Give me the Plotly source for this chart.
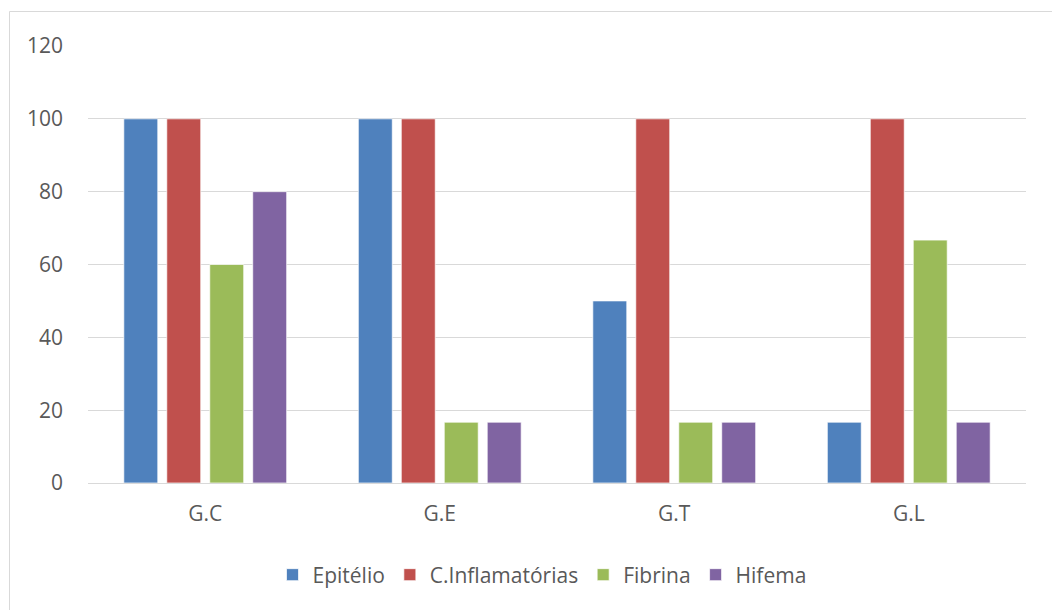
import plotly.graph_objects as go

categories = ["G.C", "G.E", "G.T", "G.L"]
epitelio = [100, 100, 50, 16.7]
inflamatorias = [100, 100, 100, 100]
fibrina = [60, 16.7, 16.7, 66.7]
hifema = [80, 16.7, 16.7, 16.7]

series = [
    ("Epitélio", epitelio, "#4F81BD"),
    ("C.Inflamatórias", inflamatorias, "#C0504D"),
    ("Fibrina", fibrina, "#9BBB59"),
    ("Hifema", hifema, "#8064A2"),
]

fig = go.Figure()
for name, vals, color in series:
    fig.add_trace(go.Bar(
        x=categories, y=vals, name=name,
        marker=dict(color=color, line=dict(color="white", width=0.7)),
    ))

W, H = 1052, 610
L, R, T, B = 88, 26, 46, 127
pw, ph = W - L - R, H - T - B

def px_x(p):
    return (p - L) / pw

def px_y(p):
    return (H - B - p) / ph

font = "Open Sans, Liberation Sans, sans-serif"
fs = 21
fig.update_layout(
    width=W, height=H,
    margin=dict(l=L, r=R, t=T, b=B),
    paper_bgcolor="white", plot_bgcolor="white",
    barmode="group", bargap=0.267, bargroupgap=0.21,
    font=dict(family=font, size=fs, color="#595959"),
    showlegend=True,
    legend=dict(orientation="h", x=px_x(542), xanchor="center", y=px_y(575), yanchor="middle",
                font=dict(size=fs, color="#595959"), itemwidth=30, traceorder="normal"),
    xaxis=dict(showgrid=False, showline=True, linecolor="#D9D9D9", linewidth=1,
               ticks="", ticklabelstandoff=12, tickfont=dict(size=fs)),
    yaxis=dict(range=[0, 120], dtick=20, showgrid=True, gridcolor="#D9D9D9", gridwidth=1,
               zeroline=False, showline=False, ticks="", ticklabelstandoff=24,
               tickfont=dict(size=fs)),
    shapes=[dict(type="rect", xref="paper", yref="paper",
                 x0=px_x(9.5), x1=px_x(1060), y0=px_y(620), y1=px_y(11.5),
                 line=dict(color="#D9D9D9", width=1), fillcolor="rgba(0,0,0,0)", layer="below")],
)

fig.write_html("out.html")
